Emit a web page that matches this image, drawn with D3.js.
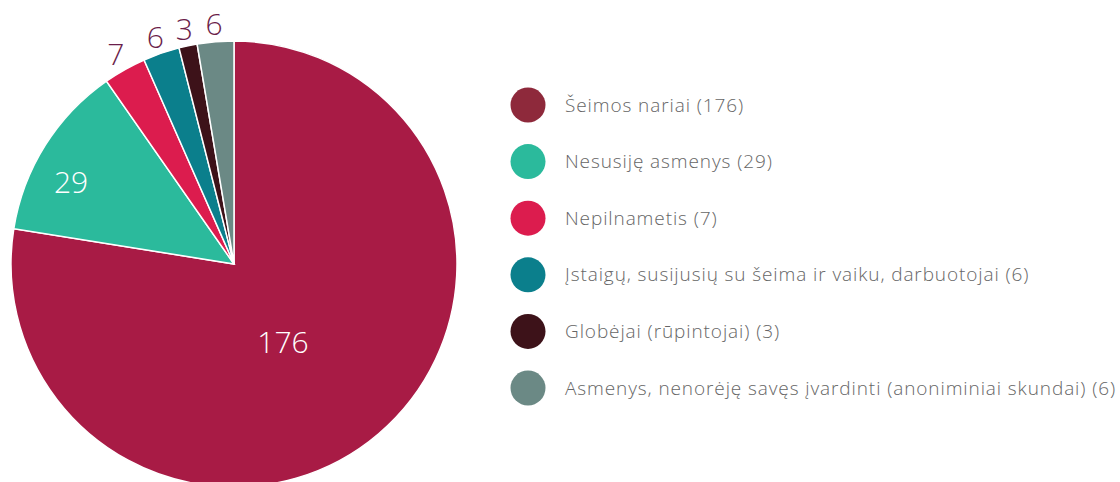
<!DOCTYPE html>
<html>
<meta charset="utf-8">
<title>Skundai</title>
<style>
  body { margin: 0; background: #fff; }
  svg text { font-family: "Open Sans", "Noto Sans", sans-serif; font-weight: 300; }
  .legend text { fill: #666; font-size: 19px; letter-spacing: 0.9px; }
</style>
<body>
<div id="chart"></div>
<script src="https://d3js.org/d3.v7.min.js"></script>
<script>
var names = ["Šeimos nariai", "Nesusiję asmenys", "Nepilnametis",
  "Įstaigų, susijusių su šeima ir vaiku, darbuotojai", "Globėjai (rūpintojai)",
  "Asmenys, nenorėję savęs įvardinti (anoniminiai skundai)"];
var counts = [176, 29, 7, 6, 3, 6];
var sliceColors = ["#a81b45", "#2bba9c", "#dc1c4e", "#0b7f8c", "#3d1219", "#6b8985"];
var dotColors = ["#8e293b", "#2bba9c", "#dc1c4e", "#0b7f8c", "#3d1219", "#6b8985"];

var width = 1120, height = 482;
var cx = 234, cy = 264, r = 223;

var svg = d3.select("#chart").append("svg")
    .attr("width", width)
    .attr("height", height);

var pie = d3.pie().sort(null).value(function(d) { return d; });
var arcs = pie(counts);
var arc = d3.arc().innerRadius(0).outerRadius(r);
var total = d3.sum(counts);

var g = svg.append("g").attr("transform", "translate(" + cx + "," + cy + ")");

g.selectAll("path")
  .data(arcs)
  .enter().append("path")
    .attr("d", arc)
    .style("fill", function(d, i) { return sliceColors[i]; })
    .style("stroke", "#fff")
    .style("stroke-width", 1.5);

// big slices get the label inside, small ones just outside the rim
g.selectAll("text.lbl")
  .data(arcs)
  .enter().append("text")
    .attr("class", "lbl")
    .attr("transform", function(d) {
      var share = d.value / total;
      var a = (d.startAngle + d.endAngle) / 2;
      var lr = r + 18;
      if (share > 0.5) { lr = r * 0.41; a += 0.14; }
      else if (share > 0.08) { lr = r * 0.82; a -= 0.09; }
      return "translate(" + (Math.sin(a) * lr) + "," + (-Math.cos(a) * lr) + ")";
    })
    .attr("text-anchor", "middle")
    .attr("dominant-baseline", "central")
    .style("font-size", "30px")
    .style("fill", function(d) { return d.value / total > 0.08 ? "#fff" : "#6b1e4a"; })
    .text(function(d) { return d.value; });

var y = d3.scalePoint().domain(d3.range(names.length)).range([105, 388]);

var leg = svg.append("g").attr("class", "legend")
  .selectAll("g")
  .data(names)
  .enter().append("g")
    .attr("transform", function(d, i) { return "translate(528," + y(i) + ")"; });

leg.append("circle")
    .attr("r", 17.5)
    .style("fill", function(d, i) { return dotColors[i]; });

leg.append("text")
    .attr("x", 37)
    .attr("dy", "0.35em")
    .text(function(d, i) { return d + " (" + counts[i] + ")"; });
</script>
</body>
</html>
